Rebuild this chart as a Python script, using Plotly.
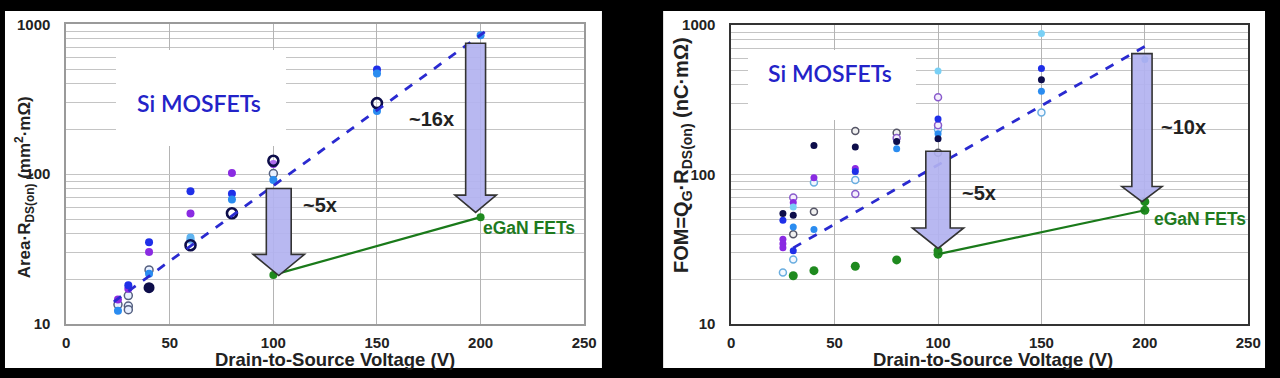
import math
import plotly.graph_objects as go

# ---------------- data ----------------
x_tick_vals = [0, 50, 100, 150, 200, 250]
y_major_vals = [10, 100, 1000]
y_major_text = ["10", "100", "1000"]
y_minor_vals = [20, 30, 40, 50, 60, 70, 80, 90,
                200, 300, 400, 500, 600, 700, 800, 900]

# Left chart: Area * RDS(on) (mm2*mOhm)
left_blue_v = [30, 40, 60, 80, 150]
left_blue = [18.2, 35.2, 77.0, 74.0, 499]
left_purple_v = [25, 30, 40, 60, 80, 100]
left_purple = [14.6, 17.2, 30.3, 54.6, 101.8, 117]
left_dodger_v = [25, 40, 60, 80, 100, 150, 150, 200]
left_dodger = [12.3, 21.7, 36.5, 67.8, 91.6, 470, 264, 845]
left_light_v = [60]
left_light = [37.8]
left_navy_v = [40]
left_navy = [17.5]
left_ring_v = [60, 80, 100, 150]
left_ring = [33.6, 54.9, 122.9, 298]
left_open_v = [25, 30, 30, 30, 40, 100]
left_open = [13.5, 15.5, 13.2, 12.5, 23.0, 101]
left_trend_v = [23, 202]
left_trend = [14.1, 890]
left_egan_v = [100, 200]
left_egan = [21.3, 51.7]

# Right chart: FOM = QG * RDS(on) (nC*mOhm)
right_navy_v = [25, 30, 40, 60, 80, 100, 150]
right_navy = [55, 53.5, 157, 153, 167, 174, 431]
right_blue_v = [25, 30, 60, 100, 150]
right_blue = [49.5, 31, 105, 236, 513]
right_purple_v = [25, 25, 25, 30, 40, 60]
right_purple = [37, 34.5, 32.5, 65.2, 95.3, 110]
right_dodger_v = [30, 40, 80, 100, 150, 200]
right_dodger = [44.6, 43, 149, 188, 362, 591]
right_sky_v = [30, 100, 150]
right_sky = [60.8, 494, 882]
right_open_gray_v = [30, 40, 60, 80, 100]
right_open_gray = [40, 56.5, 196, 191, 140]
right_open_light_v = [25, 30, 40, 60, 100, 150]
right_open_light = [22.2, 27.1, 88.7, 92.2, 201, 261]
right_open_lav_v = [30, 60, 80, 100, 100]
right_open_lav = [70.4, 74.3, 176, 330, 214]
right_green_v = [30, 40, 60, 80, 100, 100, 200, 200]
right_green = [21.1, 22.8, 24.4, 26.9, 29.4, 31, 57.8, 66]
right_trend_v = [30, 200]
right_trend = [32.4, 721]
right_egan_v = [100, 200]
right_egan = [29.4, 57.8]

# ---------------- styles ----------------
W, H = 1280, 378
FONT = "Liberation Sans, Arial, sans-serif"
BLUE = "#1f2fe8"
PURPLE = "#8a2be2"
DODGER = "#2a8cf0"
LIGHT = "#5fb4f0"
SKY = "#79d0f5"
NAVY = "#0d0d4a"
GREEN = "#1f8a1f"
GREEN_LINE = "#1a7a1a"
TREND = "#2a2ad0"

L_XDOM = [63 / W, 588 / W]
L_YDOM = [(H - 330) / H, (H - 16) / H]
R_XDOM = [737 / W, 1261 / W]
R_YDOM = [(H - 330) / H, (H - 17) / H]

fig = go.Figure()


def pts(xs, ys, color, size, xa, ya, line_color=None, line_w=0, fill=None):
    fig.add_trace(go.Scatter(
        x=xs, y=ys, mode="markers", xaxis=xa, yaxis=ya, hoverinfo="skip",
        marker=dict(size=size, color=fill if fill else color,
                    line=dict(color=line_color if line_color else color, width=line_w))))


# left panel points
pts(left_open_v, left_open, "#ffffff", 8, "x", "y", line_color="#556080", line_w=1.5, fill="#e8f0ff")
pts(left_purple_v, left_purple, PURPLE, 8, "x", "y")
pts(left_blue_v, left_blue, BLUE, 8, "x", "y")
pts(left_dodger_v, left_dodger, DODGER, 8, "x", "y")
pts(left_light_v, left_light, LIGHT, 8, "x", "y")
pts(left_navy_v, left_navy, NAVY, 11, "x", "y")
pts(left_ring_v, left_ring, "#ffffff", 10, "x", "y", line_color=NAVY, line_w=2.6, fill="rgba(255,255,255,0.3)")

fig.add_trace(go.Scatter(x=left_trend_v, y=left_trend, mode="lines", xaxis="x", yaxis="y",
                         line=dict(color=TREND, width=2.8, dash="dash"), hoverinfo="skip"))
fig.add_trace(go.Scatter(x=left_egan_v, y=left_egan, mode="lines+markers", xaxis="x", yaxis="y",
                         line=dict(color=GREEN_LINE, width=2.2),
                         marker=dict(size=8, color=GREEN), hoverinfo="skip"))

# right panel points
pts(right_open_light_v, right_open_light, "#ffffff", 7, "x2", "y2", line_color="#6aaee0", line_w=1.5, fill="#f4f8ff")
pts(right_open_gray_v, right_open_gray, "#ffffff", 7, "x2", "y2", line_color="#555566", line_w=1.5, fill="#f0f0f0")
pts(right_open_lav_v, right_open_lav, "#ffffff", 7, "x2", "y2", line_color="#8a5ccc", line_w=1.5, fill="#f4eefc")
pts(right_purple_v, right_purple, PURPLE, 7, "x2", "y2")
pts(right_sky_v, right_sky, SKY, 7, "x2", "y2")
pts(right_dodger_v, right_dodger, DODGER, 7, "x2", "y2")
pts(right_blue_v, right_blue, BLUE, 7, "x2", "y2")
pts(right_navy_v, right_navy, NAVY, 7, "x2", "y2")
pts(right_green_v, right_green, GREEN, 9, "x2", "y2")

fig.add_trace(go.Scatter(x=right_trend_v, y=right_trend, mode="lines", xaxis="x2", yaxis="y2",
                         line=dict(color=TREND, width=2.8, dash="dash"), hoverinfo="skip"))
fig.add_trace(go.Scatter(x=right_egan_v, y=right_egan, mode="lines", xaxis="x2", yaxis="y2",
                         line=dict(color=GREEN_LINE, width=2.2), hoverinfo="skip"))


# ---------------- layout ----------------
tickfont = dict(family=FONT, size=15, color="#222222", weight="bold")


def xaxis_cfg(domain, anchor, linecolor):
    return dict(domain=domain, anchor=anchor, range=[0, 250], tickvals=x_tick_vals,
                showgrid=True, gridcolor="#b4b4b4", gridwidth=1, zeroline=False,
                showline=True, mirror=True, linecolor=linecolor, linewidth=1.5,
                tickfont=tickfont, ticks="", ticklabelstandoff=4, fixedrange=True)


def yaxis_cfg(domain, anchor, linecolor):
    return dict(domain=domain, anchor=anchor, type="log", range=[1, 3],
                tickvals=y_major_vals, ticktext=y_major_text,
                showgrid=True, gridcolor="#c4c4c4", gridwidth=1, zeroline=False,
                minor=dict(tickvals=y_minor_vals, showgrid=True, gridcolor="#c4c4c4",
                           gridwidth=1, ticks=""),
                showline=True, mirror=True, linecolor=linecolor, linewidth=1.5,
                tickfont=tickfont, ticks="", ticklabelstandoff=11, fixedrange=True)


fig.update_layout(
    width=W, height=H, margin=dict(l=0, r=0, t=0, b=0),
    paper_bgcolor="black", plot_bgcolor="white", showlegend=False,
    xaxis=xaxis_cfg(L_XDOM, "y", "#9a9a9a"),
    yaxis=yaxis_cfg(L_YDOM, "x", "#9a9a9a"),
    xaxis2=xaxis_cfg(R_XDOM, "y2", "#333333"),
    yaxis2=yaxis_cfg(R_YDOM, "x2", "#333333"),
)


def to_paper(xdom, ydom, v, val):
    px = xdom[0] + (v / 250.0) * (xdom[1] - xdom[0])
    py = ydom[0] + ((math.log10(val) - 1) / 2.0) * (ydom[1] - ydom[0])
    return px, py


shapes = []
# white panels
shapes.append(dict(type="rect", xref="paper", yref="paper", x0=1 / W, x1=606 / W,
                   y0=2 / H, y1=376 / H, fillcolor="white", line=dict(width=0), layer="below"))
shapes.append(dict(type="rect", xref="paper", yref="paper", x0=668 / W, x1=1278 / W,
                   y0=2 / H, y1=376 / H, fillcolor="white", line=dict(width=0), layer="below"))


def arrow(xdom, ydom, tip_x, tip_v, top_v, head_v, shaft_half, head_half):
    pts_ = [(tip_x - shaft_half, top_v), (tip_x + shaft_half, top_v),
            (tip_x + shaft_half, head_v), (tip_x + head_half, head_v),
            (tip_x, tip_v), (tip_x - head_half, head_v), (tip_x - shaft_half, head_v)]
    coords = [to_paper(xdom, ydom, a, b) for a, b in pts_]
    p = "M " + " L ".join(f"{cx:.5f},{cy:.5f}" for cx, cy in coords) + " Z"
    return dict(type="path", xref="paper", yref="paper", path=p,
                fillcolor="rgba(178,178,240,0.92)", line=dict(color="#333333", width=1.6),
                layer="above")


shapes.append(arrow(L_XDOM, L_YDOM, 102.6, 21.1, 80.3, 29.2, 6.0, 12.4))
shapes.append(arrow(L_XDOM, L_YDOM, 197.6, 55.6, 748, 72.5, 4.8, 10.0))
shapes.append(arrow(R_XDOM, R_YDOM, 100.0, 32.1, 143.4, 44.0, 5.9, 12.4))
shapes.append(arrow(R_XDOM, R_YDOM, 198.6, 66.0, 646, 83.3, 4.9, 9.7))
fig.update_layout(shapes=shapes)

ann = []

# white boxes behind "Si MOSFETs" (hide gridlines, as in the original)
ann.append(dict(xref="paper", yref="paper", x=200 / W, y=(H - 93) / H, text=" ",
                showarrow=False, xanchor="center", yanchor="middle",
                width=170, height=96, bgcolor="white", borderpad=0, borderwidth=0))
ann.append(dict(xref="paper", yref="paper", x=839 / W, y=(H - 80) / H, text=" ",
                showarrow=False, xanchor="center", yanchor="middle",
                width=168, height=70, bgcolor="white", borderpad=0, borderwidth=0))


def label(xdom, ydom, x, yfrac, text, size, color, weight="bold", family=FONT):
    px = xdom[0] + (x / 250.0) * (xdom[1] - xdom[0])
    py = ydom[0] + yfrac * (ydom[1] - ydom[0])
    ann.append(dict(xref="paper", yref="paper", x=px, y=py, text=text, showarrow=False,
                    xanchor="center", yanchor="middle",
                    font=dict(family=family, size=size, color=color, weight=weight)))


label(L_XDOM, L_YDOM, 64.3, 0.739, "Si MOSFETs", 23, "#2323c8", weight=600, family="Lato, Open Sans, sans-serif")
label(R_XDOM, R_YDOM, 47.7, 0.840, "Si MOSFETs", 23, "#2323c8", weight=600, family="Lato, Open Sans, sans-serif")
label(L_XDOM, L_YDOM, 176.2, 0.685, "~16x", 20, "#222222")
label(L_XDOM, L_YDOM, 122.4, 0.398, "~5x", 20, "#222222")
label(R_XDOM, R_YDOM, 119.8, 0.438, "~5x", 20, "#222222")
label(R_XDOM, R_YDOM, 218.5, 0.661, "~10x", 20, "#222222")
label(L_XDOM, L_YDOM, 223.3, 0.322, "eGaN FETs", 17.5, "#1e7a1e")
label(R_XDOM, R_YDOM, 226.6, 0.351, "eGaN FETs", 17.5, "#1e7a1e")

# axis titles
for cx in (335, 1002):
    ann.append(dict(xref="paper", yref="paper", x=cx / W, y=(H - 367) / H, showarrow=False,
                    text="Drain-to-Source Voltage (V)", xanchor="center", yanchor="middle",
                    borderpad=0,
                    font=dict(family=FONT, size=18.5, color="#222222", weight="bold")))
ann.append(dict(xref="paper", yref="paper", x=21 / W, y=(H - 187) / H, showarrow=False,
                text="Area·R<sub>DS(on)</sub> (mm<sup>2</sup>·mΩ)", textangle=-90,
                xanchor="center", yanchor="middle",
                font=dict(family=FONT, size=17, color="#222222", weight="bold")))
ann.append(dict(xref="paper", yref="paper", x=687 / W, y=(H - 153) / H, showarrow=False,
                text="FOM=Q<sub>G</sub>·R<sub>DS(on)</sub> (nC·mΩ)", textangle=-90,
                xanchor="center", yanchor="middle",
                font=dict(family=FONT, size=20, color="#222222", weight="bold")))
fig.update_layout(annotations=ann)

fig.write_html("out.html", config={"displayModeBar": False},
               post_script="document.body.style.margin='0';document.body.style.background='black';")
